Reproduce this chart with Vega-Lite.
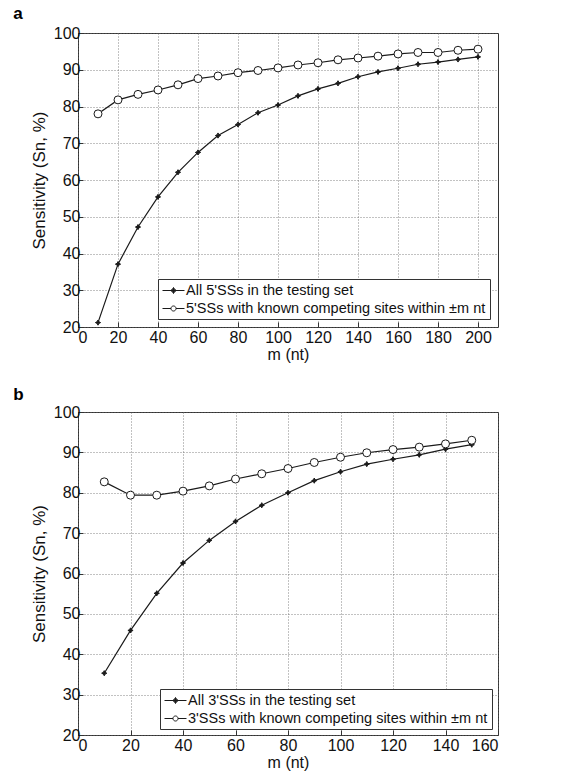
{
  "$schema": "https://vega.github.io/schema/vega-lite/v6.json",
  "padding": {"left": 12, "top": 4, "right": 5, "bottom": 2},
  "background": "white",
  "datasets": {
    "a": [
      {"m": 10, "sn": 21.2, "series": "All 5'SSs in the testing set"},
      {"m": 20, "sn": 37.1, "series": "All 5'SSs in the testing set"},
      {"m": 30, "sn": 47.2, "series": "All 5'SSs in the testing set"},
      {"m": 40, "sn": 55.4, "series": "All 5'SSs in the testing set"},
      {"m": 50, "sn": 62.1, "series": "All 5'SSs in the testing set"},
      {"m": 60, "sn": 67.5, "series": "All 5'SSs in the testing set"},
      {"m": 70, "sn": 72.1, "series": "All 5'SSs in the testing set"},
      {"m": 80, "sn": 75.1, "series": "All 5'SSs in the testing set"},
      {"m": 90, "sn": 78.3, "series": "All 5'SSs in the testing set"},
      {"m": 100, "sn": 80.4, "series": "All 5'SSs in the testing set"},
      {"m": 110, "sn": 82.9, "series": "All 5'SSs in the testing set"},
      {"m": 120, "sn": 84.8, "series": "All 5'SSs in the testing set"},
      {"m": 130, "sn": 86.3, "series": "All 5'SSs in the testing set"},
      {"m": 140, "sn": 88.1, "series": "All 5'SSs in the testing set"},
      {"m": 150, "sn": 89.4, "series": "All 5'SSs in the testing set"},
      {"m": 160, "sn": 90.4, "series": "All 5'SSs in the testing set"},
      {"m": 170, "sn": 91.5, "series": "All 5'SSs in the testing set"},
      {"m": 180, "sn": 92.1, "series": "All 5'SSs in the testing set"},
      {"m": 190, "sn": 92.8, "series": "All 5'SSs in the testing set"},
      {"m": 200, "sn": 93.5, "series": "All 5'SSs in the testing set"},
      {"m": 10, "sn": 78.0, "series": "5'SSs with known competing sites within ±m nt"},
      {"m": 20, "sn": 81.8, "series": "5'SSs with known competing sites within ±m nt"},
      {"m": 30, "sn": 83.3, "series": "5'SSs with known competing sites within ±m nt"},
      {"m": 40, "sn": 84.5, "series": "5'SSs with known competing sites within ±m nt"},
      {"m": 50, "sn": 85.9, "series": "5'SSs with known competing sites within ±m nt"},
      {"m": 60, "sn": 87.6, "series": "5'SSs with known competing sites within ±m nt"},
      {"m": 70, "sn": 88.3, "series": "5'SSs with known competing sites within ±m nt"},
      {"m": 80, "sn": 89.2, "series": "5'SSs with known competing sites within ±m nt"},
      {"m": 90, "sn": 89.8, "series": "5'SSs with known competing sites within ±m nt"},
      {"m": 100, "sn": 90.5, "series": "5'SSs with known competing sites within ±m nt"},
      {"m": 110, "sn": 91.3, "series": "5'SSs with known competing sites within ±m nt"},
      {"m": 120, "sn": 91.9, "series": "5'SSs with known competing sites within ±m nt"},
      {"m": 130, "sn": 92.7, "series": "5'SSs with known competing sites within ±m nt"},
      {"m": 140, "sn": 93.2, "series": "5'SSs with known competing sites within ±m nt"},
      {"m": 150, "sn": 93.7, "series": "5'SSs with known competing sites within ±m nt"},
      {"m": 160, "sn": 94.3, "series": "5'SSs with known competing sites within ±m nt"},
      {"m": 170, "sn": 94.7, "series": "5'SSs with known competing sites within ±m nt"},
      {"m": 180, "sn": 94.7, "series": "5'SSs with known competing sites within ±m nt"},
      {"m": 190, "sn": 95.3, "series": "5'SSs with known competing sites within ±m nt"},
      {"m": 200, "sn": 95.6, "series": "5'SSs with known competing sites within ±m nt"}
    ],
    "b": [
      {"m": 10, "sn": 35.3, "series": "All 3'SSs in the testing set"},
      {"m": 20, "sn": 45.9, "series": "All 3'SSs in the testing set"},
      {"m": 30, "sn": 55.1, "series": "All 3'SSs in the testing set"},
      {"m": 40, "sn": 62.6, "series": "All 3'SSs in the testing set"},
      {"m": 50, "sn": 68.2, "series": "All 3'SSs in the testing set"},
      {"m": 60, "sn": 72.9, "series": "All 3'SSs in the testing set"},
      {"m": 70, "sn": 76.9, "series": "All 3'SSs in the testing set"},
      {"m": 80, "sn": 80.0, "series": "All 3'SSs in the testing set"},
      {"m": 90, "sn": 83.0, "series": "All 3'SSs in the testing set"},
      {"m": 100, "sn": 85.2, "series": "All 3'SSs in the testing set"},
      {"m": 110, "sn": 87.1, "series": "All 3'SSs in the testing set"},
      {"m": 120, "sn": 88.3, "series": "All 3'SSs in the testing set"},
      {"m": 130, "sn": 89.4, "series": "All 3'SSs in the testing set"},
      {"m": 140, "sn": 90.8, "series": "All 3'SSs in the testing set"},
      {"m": 150, "sn": 91.9, "series": "All 3'SSs in the testing set"},
      {"m": 10, "sn": 82.7, "series": "3'SSs with known competing sites within ±m nt"},
      {"m": 20, "sn": 79.4, "series": "3'SSs with known competing sites within ±m nt"},
      {"m": 30, "sn": 79.4, "series": "3'SSs with known competing sites within ±m nt"},
      {"m": 40, "sn": 80.4, "series": "3'SSs with known competing sites within ±m nt"},
      {"m": 50, "sn": 81.7, "series": "3'SSs with known competing sites within ±m nt"},
      {"m": 60, "sn": 83.4, "series": "3'SSs with known competing sites within ±m nt"},
      {"m": 70, "sn": 84.7, "series": "3'SSs with known competing sites within ±m nt"},
      {"m": 80, "sn": 86.0, "series": "3'SSs with known competing sites within ±m nt"},
      {"m": 90, "sn": 87.5, "series": "3'SSs with known competing sites within ±m nt"},
      {"m": 100, "sn": 88.8, "series": "3'SSs with known competing sites within ±m nt"},
      {"m": 110, "sn": 89.9, "series": "3'SSs with known competing sites within ±m nt"},
      {"m": 120, "sn": 90.7, "series": "3'SSs with known competing sites within ±m nt"},
      {"m": 130, "sn": 91.3, "series": "3'SSs with known competing sites within ±m nt"},
      {"m": 140, "sn": 92.1, "series": "3'SSs with known competing sites within ±m nt"},
      {"m": 150, "sn": 93.0, "series": "3'SSs with known competing sites within ±m nt"}
    ]
  },
  "config": {
    "font": "Liberation Sans",
    "view": {"stroke": "#333", "strokeWidth": 1},
    "point": {"stroke": "#1a1a1a", "strokeWidth": 1},
    "axis": {
      "labelFont": "Liberation Sans", "labelFontSize": 16, "labelColor": "#111",
      "titleFont": "Liberation Sans", "titleFontSize": 16, "titleFontWeight": "normal", "titleColor": "#111",
      "grid": true, "gridDash": [1, 2], "gridColor": "#666", "gridWidth": 0.8,
      "domain": false, "ticks": true, "tickSize": -5, "tickColor": "#333"
    },
    "axisX": {"labelPadding": 7, "titlePadding": 1},
    "axisY": {"labelPadding": 3, "titlePadding": 5, "titleFontSize": 17},
    "legend": {
      "orient": "bottom-right", "offset": 8, "strokeColor": "#333", "fillColor": "white",
      "padding": 4, "labelFont": "Liberation Sans", "labelFontSize": 14.5, "labelColor": "#111",
      "labelLimit": 500, "labelOffset": 5, "symbolOffset": 4, "rowPadding": 3, "symbolSize": 196,
      "symbolStrokeWidth": 1, "title": null, "cornerRadius": 0
    },
    "title": {"font": "Liberation Sans", "fontSize": 17, "fontWeight": "bold", "color": "#000", "anchor": "start"}
  },
  "vconcat": [
    {
      "title": {"text": "a", "dx": -17, "offset": 2},
      "width": 420, "height": 294,
      "data": {"name": "a"},
      "encoding": {
        "x": {"field": "m", "type": "quantitative", "title": "m (nt)",
          "scale": {"domain": [0, 210], "nice": false, "zero": false},
          "axis": {"values": [0, 20, 40, 60, 80, 100, 120, 140, 160, 180, 200]}},
        "y": {"field": "sn", "type": "quantitative", "title": "Sensitivity (Sn, %)",
          "scale": {"domain": [20, 100], "nice": false, "zero": false},
          "axis": {"values": [20, 30, 40, 50, 60, 70, 80, 90, 100]}}
      },
      "layer": [
        {"mark": {"type": "line", "strokeWidth": 1.2},
          "encoding": {
            "color": {"field": "series", "type": "nominal",
              "scale": {"domain": ["All 5'SSs in the testing set", "5'SSs with known competing sites within ±m nt"],
                "range": ["#1a1a1a", "#1a1a1a"]},
              "legend": {"offset": 8, "encode": {"symbols": {"update": {
                "shape": [{"test": "datum.index === 0", "value": "M-1.57,0H1.57M0,-0.43L0.16,-0.16L0.43,0L0.16,0.16L0,0.43L-0.16,0.16L-0.43,0L-0.16,-0.16Z"},
                          {"value": "M-1.57,0H-0.36M0.36,0H1.57M-0.36,0A0.36,0.36 0 1,0 0.36,0A0.36,0.36 0 1,0 -0.36,0Z"}],
                "fill": [{"test": "datum.index === 0", "value": "#1a1a1a"}, {"value": "white"}],
                "stroke": {"value": "#1a1a1a"},
                "size": {"value": 196}, "strokeWidth": {"value": 1}}}}}}
          }},
        {"mark": {"type": "point", "filled": true, "stroke": "#1a1a1a", "strokeWidth": 1, "size": 64, "opacity": 1},
          "encoding": {
            "shape": {"field": "series", "type": "nominal", "legend": null,
              "scale": {"domain": ["5'SSs with known competing sites within ±m nt", "All 5'SSs in the testing set"],
                "range": ["circle", "M0,-0.65L0.22,-0.22L0.65,0L0.22,0.22L0,0.65L-0.22,0.22L-0.65,0L-0.22,-0.22Z"]}},
            "fill": {"field": "series", "type": "nominal", "legend": null,
              "scale": {"domain": ["5'SSs with known competing sites within ±m nt", "All 5'SSs in the testing set"],
                "range": ["white", "#1a1a1a"]}}
          }}
      ]
    },
    {
      "title": {"text": "b", "dx": -17, "offset": 0},
      "width": 420, "height": 323,
      "data": {"name": "b"},
      "encoding": {
        "x": {"field": "m", "type": "quantitative", "title": "m (nt)",
          "scale": {"domain": [0, 160], "nice": false, "zero": false},
          "axis": {"values": [0, 20, 40, 60, 80, 100, 120, 140, 160]}},
        "y": {"field": "sn", "type": "quantitative", "title": "Sensitivity (Sn, %)",
          "scale": {"domain": [20, 100], "nice": false, "zero": false},
          "axis": {"values": [20, 30, 40, 50, 60, 70, 80, 90, 100]}}
      },
      "layer": [
        {"mark": {"type": "line", "strokeWidth": 1.2},
          "encoding": {
            "color": {"field": "series", "type": "nominal",
              "scale": {"domain": ["All 3'SSs in the testing set", "3'SSs with known competing sites within ±m nt"],
                "range": ["#1a1a1a", "#1a1a1a"]},
              "legend": {"offset": 6, "encode": {"symbols": {"update": {
                "shape": [{"test": "datum.index === 0", "value": "M-1.57,0H1.57M0,-0.43L0.16,-0.16L0.43,0L0.16,0.16L0,0.43L-0.16,0.16L-0.43,0L-0.16,-0.16Z"},
                          {"value": "M-1.57,0H-0.36M0.36,0H1.57M-0.36,0A0.36,0.36 0 1,0 0.36,0A0.36,0.36 0 1,0 -0.36,0Z"}],
                "fill": [{"test": "datum.index === 0", "value": "#1a1a1a"}, {"value": "white"}],
                "stroke": {"value": "#1a1a1a"},
                "size": {"value": 196}, "strokeWidth": {"value": 1}}}}}}
          }},
        {"mark": {"type": "point", "filled": true, "stroke": "#1a1a1a", "strokeWidth": 1, "size": 64, "opacity": 1},
          "encoding": {
            "shape": {"field": "series", "type": "nominal", "legend": null,
              "scale": {"domain": ["3'SSs with known competing sites within ±m nt", "All 3'SSs in the testing set"],
                "range": ["circle", "M0,-0.65L0.22,-0.22L0.65,0L0.22,0.22L0,0.65L-0.22,0.22L-0.65,0L-0.22,-0.22Z"]}},
            "fill": {"field": "series", "type": "nominal", "legend": null,
              "scale": {"domain": ["3'SSs with known competing sites within ±m nt", "All 3'SSs in the testing set"],
                "range": ["white", "#1a1a1a"]}}
          }}
      ]
    }
  ],
  "resolve": {"scale": {"color": "independent", "shape": "independent", "fill": "independent", "x": "independent"}, "legend": {"color": "independent", "shape": "independent", "fill": "independent"}},
  "spacing": 22
}
